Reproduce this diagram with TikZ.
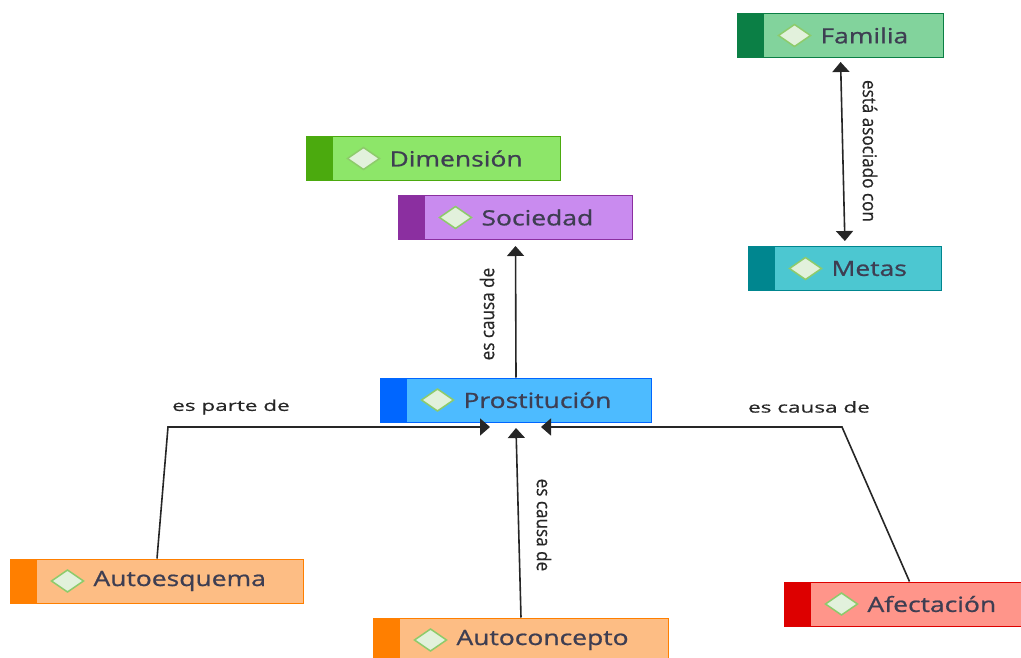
\documentclass[tikz,border=0pt]{standalone}
\usepackage{fontspec}
\setmainfont{Open Sans}
\newfontfamily\boxfont{Open Sans}[FakeStretch=1.26,FakeBold=0.9]
\newfontfamily\linkfont{Open Sans}[FakeStretch=1.5,FakeBold=0.5]
\newfontfamily\uplinkfont{Open Sans}[FakeStretch=0.9,FakeBold=0.5]
\usetikzlibrary{arrows.meta}
\definecolor{famfill}{HTML}{82D39C}
\definecolor{famdark}{HTML}{0B7F45}
\definecolor{metfill}{HTML}{4CC7D1}
\definecolor{metdark}{HTML}{00868F}
\definecolor{dimfill}{HTML}{8DE669}
\definecolor{dimdark}{HTML}{4BAA0E}
\definecolor{socfill}{HTML}{C98BEF}
\definecolor{socdark}{HTML}{8B2FA0}
\definecolor{profill}{HTML}{4DBBFF}
\definecolor{prodark}{HTML}{0066FF}
\definecolor{autfill}{HTML}{FDBD84}
\definecolor{autdark}{HTML}{FF7F00}
\definecolor{afefill}{HTML}{FF958A}
\definecolor{afedark}{HTML}{DD0000}
\definecolor{dmdfill}{HTML}{E2F1DC}
\definecolor{dmdline}{HTML}{8DCB6B}
\definecolor{txtgray}{HTML}{3E3E52}
\definecolor{lnkgray}{HTML}{262626}
\hyphenpenalty=10000

\begin{document}
\begin{tikzpicture}[x=1pt,y=-1pt,>={Triangle[length=10pt,width=17pt]},
concept/.style n args={3}{draw=#2, line width=1pt, fill=#1, anchor=west, minimum height=44pt,
  inner xsep=0pt, inner ysep=0pt, text width=#3, align=left, execute at begin node={\hspace*{83pt}},
  font=\boxfont\fontsize{21}{24}\selectfont, text=txtgray,
  path picture={\fill[#2] (path picture bounding box.north west) rectangle ([xshift=26pt]path picture bounding box.south west);
    \filldraw[fill=dmdfill, draw=dmdline, line width=1.5pt] ([xshift=41pt]path picture bounding box.west) -- ++(16pt,11pt) -- ++(16pt,-11pt) -- ++(-16pt,-11pt) -- cycle;}},
link/.style={draw=lnkgray, line width=1.6pt},
linklabel/.style={font=\linkfont\fontsize{15}{18}\selectfont, text=lnkgray, inner sep=0pt},
uplabel/.style={font=\uplinkfont\fontsize{19}{22}\selectfont, text=lnkgray, inner sep=0pt}
]
\useasboundingbox (0,0) rectangle (1021,658);

\node[concept={famfill}{famdark}{206pt}] (familia) at (737,35.5) {Familia};
\node[concept={metfill}{metdark}{193pt}] (metas) at (748,268.5) {Metas};
\node[concept={dimfill}{dimdark}{254pt}] (dimension) at (306,158.5) {Dimensión};
\node[concept={socfill}{socdark}{234pt}] (sociedad) at (398,217.5) {Sociedad};
\node[concept={profill}{prodark}{271pt}] (prostitucion) at (380,400) {Prostitución};
\node[concept={autfill}{autdark}{293pt}] (autoesquema) at (10,581) {Autoesquema};
\node[concept={autfill}{autdark}{295pt}] (autoconcepto) at (373,640) {Autoconcepto};
\node[concept={afefill}{afedark}{250pt}] (afectacion) at (784,604) {Afectación};

% entry points under Prostitución
\coordinate (inL) at (490,427);
\coordinate (inM) at (516,428);
\coordinate (inR) at (541,427);
\coordinate (bendL) at (168,427);
\coordinate (bendR) at (842,427);

\draw[link, <->, shorten <=4pt, shorten >=5pt] (familia.south) -- (metas.north);
\node[uplabel, rotate=-90] (lblasoc) at (870,151) {está asociado con};

\draw[link, ->, shorten >=6pt] (prostitucion.north) -- (sociedad.south);
\node[uplabel, rotate=90] (lblsoc) at (487,314) {es causa de};

\draw[link, ->] (autoesquema.north) -- (bendL) -- (inL);
\node[linklabel] (lblparte) at (231,407) {es parte de};

\draw[link, ->] (autoconcepto.north) -- (inM);
\node[uplabel, rotate=-90] (lblauto) at (544,525) {es causa de};

\draw[link, ->] (afectacion.north) -- (bendR) -- (inR);
\node[linklabel] (lblafe) at (809,407) {es causa de};
\end{tikzpicture}
\end{document}
